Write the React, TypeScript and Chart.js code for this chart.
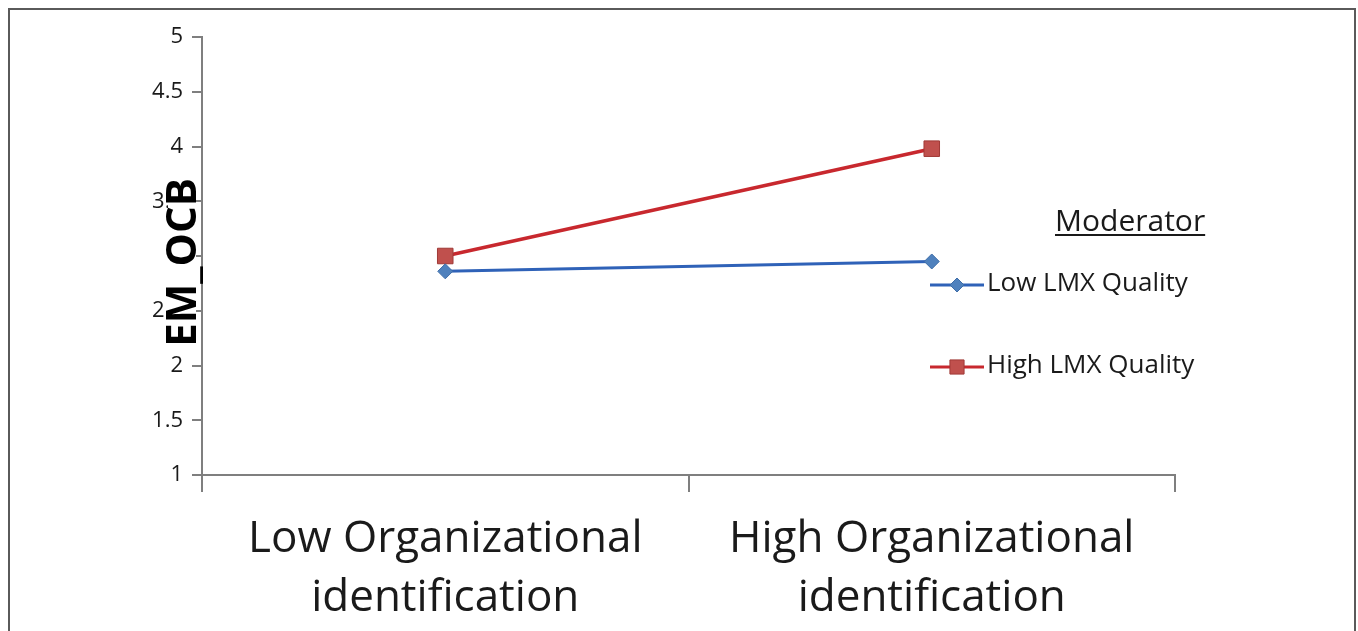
import React, { useEffect, useRef } from "react";
import { Chart, registerables } from "chart.js";

Chart.register(...registerables);

// ---- data ----
const categories: string[][] = [
  ["Low Organizational", "identification"],
  ["High Organizational", "identification"],
];
const seriesNames = ["Low LMX Quality", "High LMX Quality"];
const lowLMX = [2.86, 2.95];
const highLMX = [3.0, 3.98];
const yMin = 1;
const yMax = 5;
const yStep = 0.5;
const yTitle = "EM_OCB";
const legendTitle = "Moderator";

const BLUE_LINE = "#2F62B8";
const BLUE_MARK = "#4F81BD";
const RED_LINE = "#C8282E";
const RED_MARK = "#C0504D";
const AXIS = "#7F7F7F";
const FONT = '"Open Sans", sans-serif';

function drawMarker(ctx: CanvasRenderingContext2D, style: string, x: number, y: number, r: number, fill: string, stroke: string) {
  ctx.save();
  ctx.beginPath();
  if (style === "rectRot") {
    ctx.moveTo(x, y - r);
    ctx.lineTo(x + r, y);
    ctx.lineTo(x, y + r);
    ctx.lineTo(x - r, y);
    ctx.closePath();
  } else {
    const s = r * Math.SQRT1_2;
    ctx.rect(x - s, y - s, 2 * s, 2 * s);
  }
  ctx.fillStyle = fill;
  ctx.fill();
  ctx.lineWidth = 1;
  ctx.strokeStyle = stroke;
  ctx.stroke();
  ctx.restore();
}

const yTitlePlugin = {
  id: "yTitleOverlay",
  afterDraw(chart: any) {
    const ctx: CanvasRenderingContext2D = chart.ctx;
    const yScale = chart.scales.y;
    const cy = (yScale.getPixelForValue(3.5) + yScale.getPixelForValue(2)) / 2 - 21;
    ctx.save();
    ctx.fillStyle = "#ffffff";
    ctx.fillRect(168, cy - 84, 28, 168);
    ctx.translate(196, cy);
    ctx.rotate(-Math.PI / 2);
    ctx.font = `bold 42px ${FONT}`;
    ctx.fillStyle = "#000000";
    ctx.textAlign = "center";
    ctx.textBaseline = "alphabetic";
    ctx.fillText(yTitle, 0, 0);
    ctx.restore();
  },
};

const legendPlugin = {
  id: "customLegend",
  afterDraw(chart: any) {
    const ctx: CanvasRenderingContext2D = chart.ctx;
    ctx.save();
    ctx.fillStyle = "#1a1a1a";
    ctx.font = `30px ${FONT}`;
    ctx.textAlign = "left";
    ctx.textBaseline = "alphabetic";
    ctx.fillText(legendTitle, 1055, 231);
    const w = ctx.measureText(legendTitle).width;
    ctx.fillRect(1055, 234, w, 2);

    const rows = [285, 367];
    chart.data.datasets.forEach((ds: any, i: number) => {
      const y = rows[i];
      ctx.beginPath();
      ctx.moveTo(930, y);
      ctx.lineTo(984, y);
      ctx.strokeStyle = ds.borderColor;
      ctx.lineWidth = 3;
      ctx.stroke();
      drawMarker(ctx, ds.pointStyle, 957, y, ds.pointStyle === "rectRot" ? 7 : 10, ds.pointBackgroundColor, ds.pointBorderColor);
      ctx.fillStyle = "#1a1a1a";
      ctx.font = `26px ${FONT}`;
      ctx.textBaseline = "middle";
      ctx.fillText(ds.label, 987, y - 1);
    });
    ctx.restore();
  },
};

export default function App() {
  const canvasRef = useRef<HTMLCanvasElement | null>(null);

  useEffect(() => {
    if (!canvasRef.current) return;
    Chart.defaults.font.family = FONT;
    const chart = new Chart(canvasRef.current, {
      type: "line",
      data: {
        labels: categories as any,
        datasets: [
          {
            label: seriesNames[0],
            data: lowLMX,
            borderColor: BLUE_LINE,
            borderWidth: 3,
            pointStyle: "rectRot",
            pointRadius: 7.5,
            pointBackgroundColor: BLUE_MARK,
            pointBorderColor: "#3E6DA8",
            pointBorderWidth: 1,
            tension: 0,
            fill: false,
          },
          {
            label: seriesNames[1],
            data: highLMX,
            borderColor: RED_LINE,
            borderWidth: 3.5,
            pointStyle: "rect",
            pointRadius: 11,
            pointBackgroundColor: RED_MARK,
            pointBorderColor: "#A03A37",
            pointBorderWidth: 1,
            tension: 0,
            fill: false,
          },
        ],
      },
      options: {
        animation: false,
        responsive: true,
        maintainAspectRatio: false,
        layout: { padding: { top: 37, right: 183, bottom: 0, left: 0 } },
        plugins: {
          legend: { display: false },
          tooltip: { enabled: false },
          title: { display: false },
        },
        scales: {
          x: {
            type: "category",
            offset: true,
            grid: {
              offset: true,
              drawOnChartArea: false,
              drawTicks: true,
              tickLength: 17,
              color: AXIS,
              lineWidth: 2,
            },
            border: { display: true, color: AXIS, width: 2 },
            ticks: {
              color: "#1a1a1a",
              padding: 18,
              font: { size: 44, lineHeight: 1.34, family: FONT },
              maxRotation: 0,
              autoSkip: false,
            },
            afterFit: (scale: any) => {
              scale.height = 156;
            },
          },
          y: {
            min: yMin,
            max: yMax,
            ticks: {
              stepSize: yStep,
              color: "#1a1a1a",
              padding: 9,
              font: { size: 22, family: FONT },
              callback: (v: any) => String(v),
            },
            grid: {
              drawOnChartArea: false,
              drawTicks: true,
              tickLength: 10,
              color: AXIS,
              lineWidth: 2,
            },
            border: { display: true, color: AXIS, width: 2 },
            afterFit: (scale: any) => {
              scale.width = 202;
            },
          },
        },
      },
      plugins: [yTitlePlugin, legendPlugin],
    });
    return () => chart.destroy();
  }, []);

  return (
    <div style={{ position: "absolute", left: 0, top: 0, width: 1358, height: 631, background: "#ffffff", overflow: "hidden" }}>
      <div
        style={{
          position: "absolute",
          left: 8,
          top: 8,
          width: 1348,
          height: 623,
          boxSizing: "border-box",
          borderTop: "2px solid #5a5a5a",
          borderLeft: "2px solid #5a5a5a",
          borderRight: "2px solid #5a5a5a",
          pointerEvents: "none",
        }}
      />
      <div style={{ position: "absolute", left: 0, top: 0, width: 1358, height: 631 }}>
        <canvas ref={canvasRef} />
      </div>
    </div>
  );
}
